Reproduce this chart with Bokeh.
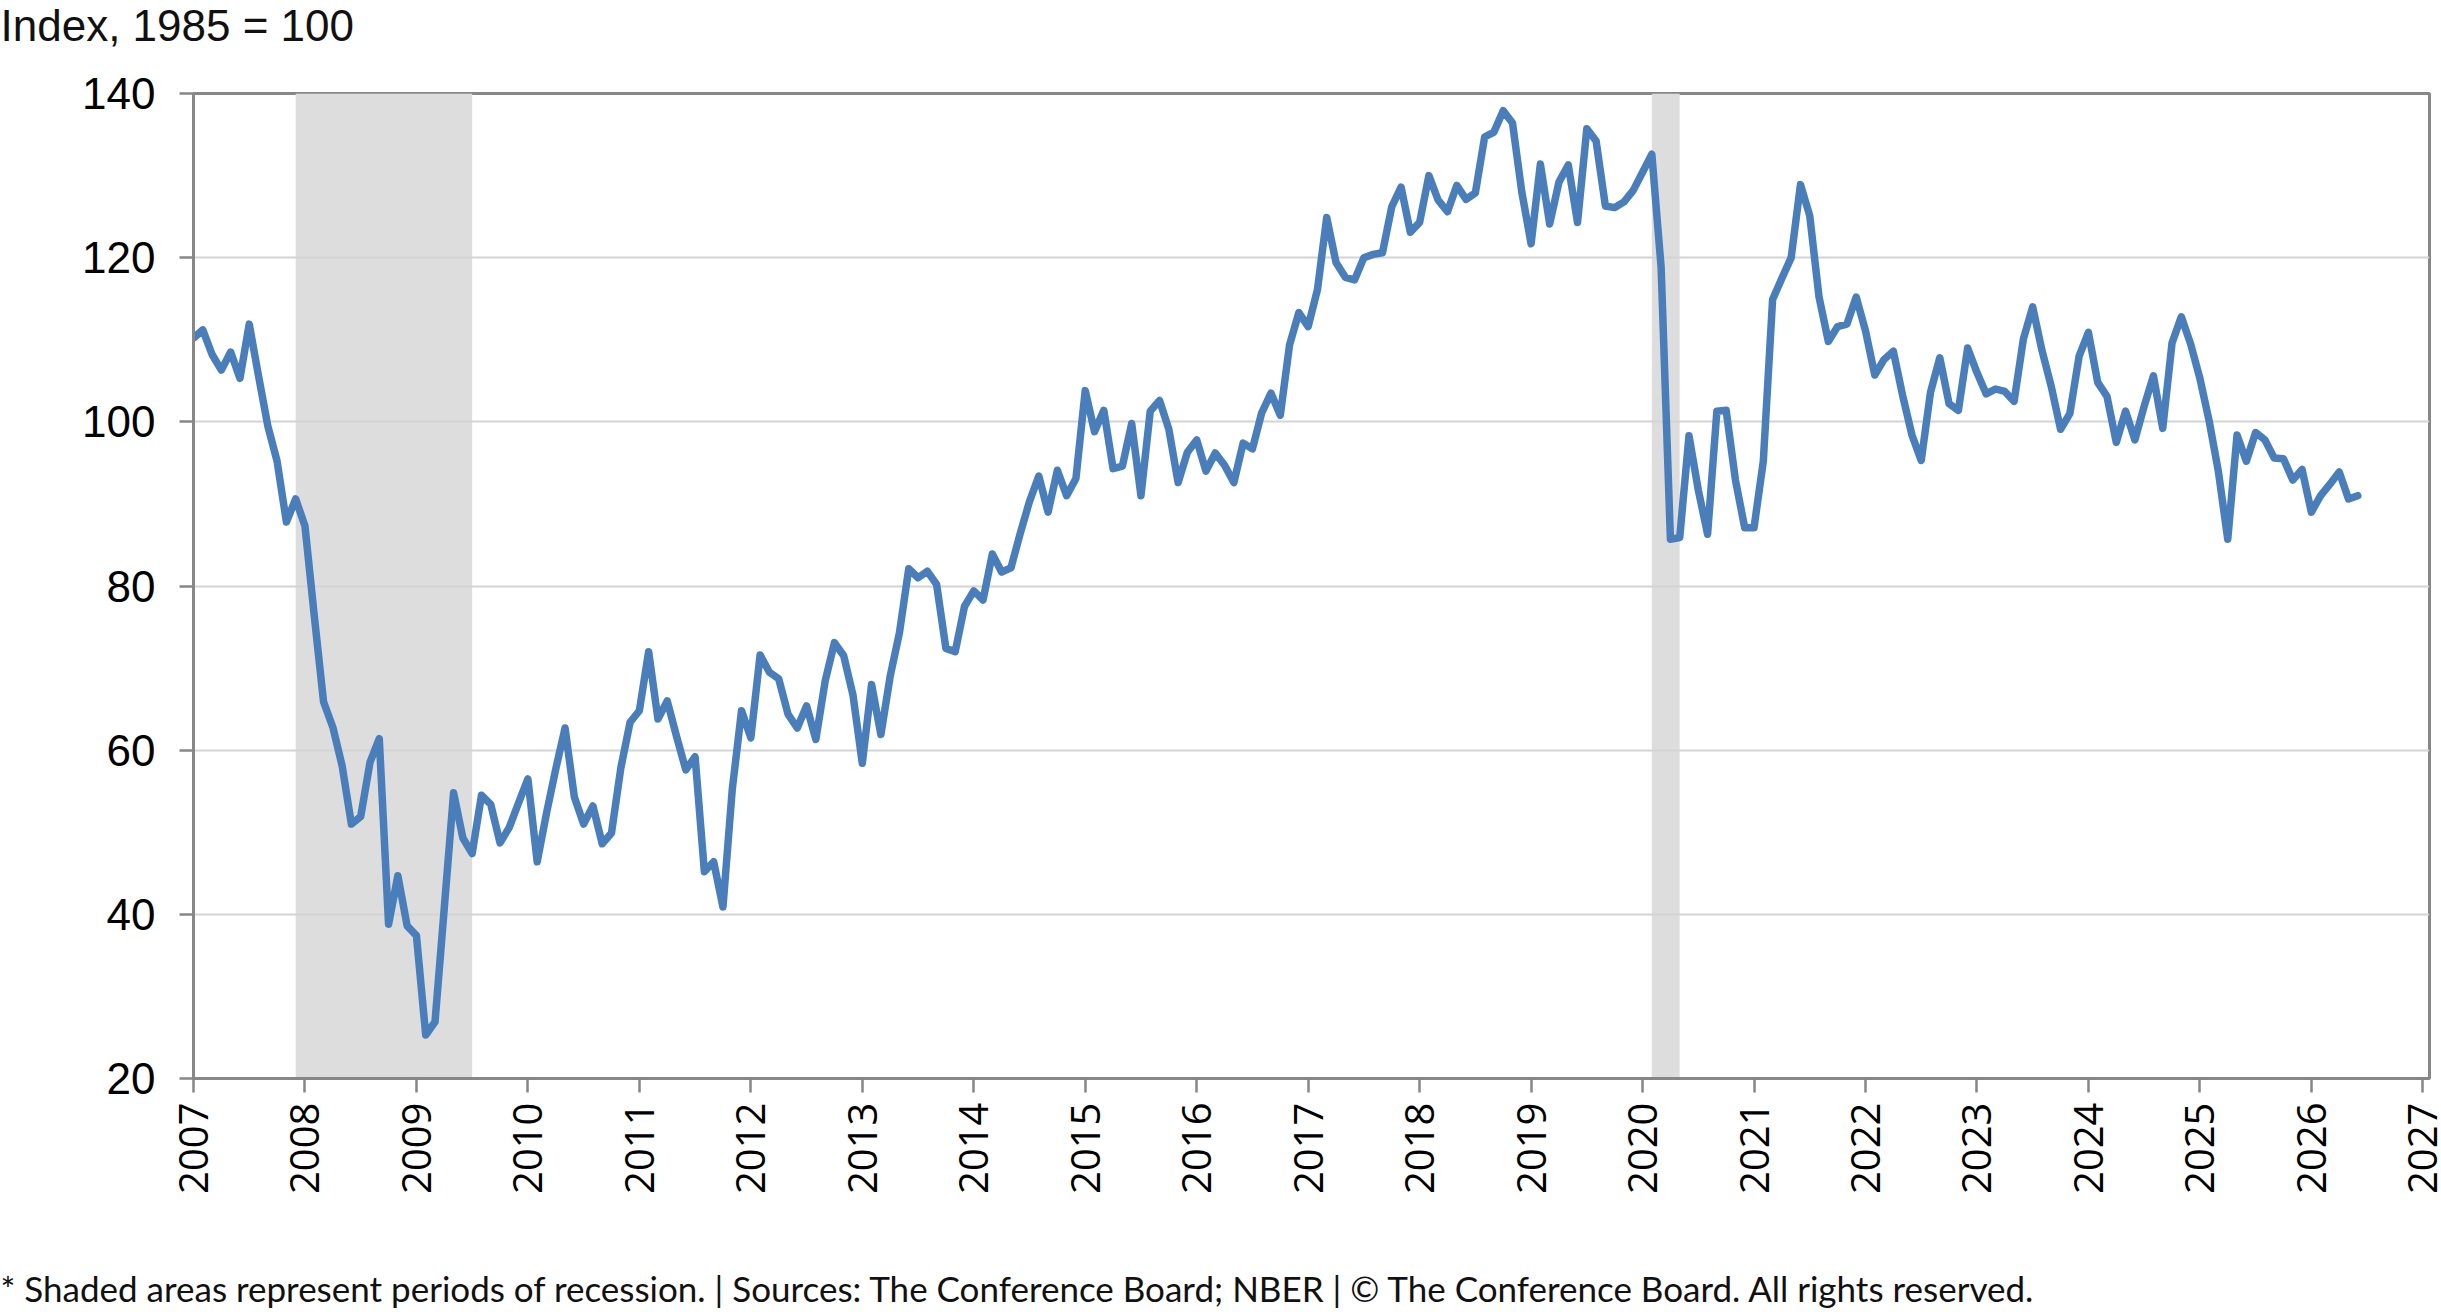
import math
from bokeh.plotting import figure
from bokeh.models import Range1d, FixedTicker, Label
from bokeh.embed import file_html
from bokeh.resources import INLINE

# ---- data: Consumer Confidence Index, monthly (Jan..Dec) ----
cci_2007 = [110.2, 111.2, 108.2, 106.3, 108.5, 105.3, 111.9, 105.6, 99.5, 95.2, 87.8, 90.6]
cci_2008 = [87.3, 76.4, 65.9, 62.8, 58.1, 51.0, 51.9, 58.5, 61.4, 38.8, 44.7, 38.6]
cci_2009 = [37.4, 25.3, 26.9, 40.8, 54.8, 49.3, 47.4, 54.5, 53.4, 48.7, 50.6, 53.6]
cci_2010 = [56.5, 46.4, 52.3, 57.7, 62.7, 54.3, 51.0, 53.2, 48.6, 49.9, 57.8, 63.4]
cci_2011 = [64.8, 72.0, 63.8, 66.0, 61.7, 57.6, 59.2, 45.2, 46.4, 40.9, 55.2, 64.8]
cci_2012 = [61.5, 71.6, 69.5, 68.7, 64.4, 62.7, 65.4, 61.3, 68.4, 73.1, 71.5, 66.7]
cci_2013 = [58.4, 68.0, 61.9, 69.0, 74.3, 82.1, 81.0, 81.8, 80.2, 72.4, 72.0, 77.5]
cci_2014 = [79.4, 78.3, 83.9, 81.7, 82.2, 86.4, 90.3, 93.4, 89.0, 94.1, 91.0, 93.1]
cci_2015 = [103.8, 98.8, 101.4, 94.3, 94.6, 99.8, 91.0, 101.3, 102.6, 99.1, 92.6, 96.3]
cci_2016 = [97.8, 94.0, 96.2, 94.7, 92.6, 97.4, 96.7, 101.1, 103.5, 100.8, 109.4, 113.3]
cci_2017 = [111.6, 116.1, 124.9, 119.4, 117.6, 117.3, 120.0, 120.4, 120.6, 126.2, 128.6, 123.1]
cci_2018 = [124.3, 130.0, 127.0, 125.6, 128.8, 127.1, 127.9, 134.7, 135.3, 137.9, 136.4, 128.0]
cci_2019 = [121.7, 131.4, 124.1, 129.2, 131.3, 124.3, 135.7, 134.2, 126.3, 126.1, 126.8, 128.2]
cci_2020 = [130.4, 132.6, 118.8, 85.7, 85.9, 98.3, 91.7, 86.3, 101.3, 101.4, 92.9, 87.1]
cci_2021 = [87.1, 95.2, 114.9, 117.5, 120.0, 128.9, 125.1, 115.2, 109.8, 111.6, 111.9, 115.2]
cci_2022 = [111.1, 105.7, 107.6, 108.6, 103.2, 98.4, 95.3, 103.6, 107.8, 102.2, 101.4, 109.0]
cci_2023 = [106.0, 103.4, 104.0, 103.7, 102.5, 110.1, 114.0, 108.7, 104.3, 99.1, 101.0, 108.0]
cci_2024 = [110.9, 104.8, 103.1, 97.5, 101.3, 97.8, 101.9, 105.6, 99.2, 109.6, 112.8, 109.5]
cci_2025 = [105.3, 100.1, 93.9, 85.7, 98.4, 95.2, 98.7, 97.8, 95.6, 95.5, 92.9, 94.2]
cci_2026 = [89.0, 91.0, 92.4, 93.9, 90.6, 91.0]

series_years = list(range(2007, 2027))
series_values = [cci_2007, cci_2008, cci_2009, cci_2010, cci_2011, cci_2012, cci_2013,
                 cci_2014, cci_2015, cci_2016, cci_2017, cci_2018, cci_2019, cci_2020,
                 cci_2021, cci_2022, cci_2023, cci_2024, cci_2025, cci_2026]

# recessions (NBER), as decimal years
rec_start = [2007.917, 2020.083]
rec_end = [2009.5, 2020.333]

y_ticks = [20, 40, 60, 80, 100, 120, 140]
x_ticks = list(range(2007, 2028))
x_tick_labels = {t: str(t) for t in x_ticks}

title_text = "Index, 1985 = 100"
footer_text = ("*  Shaded areas represent periods of recession.  |  Sources: The Conference Board;  NBER  |  "
               "\u00a9 The Conference Board.  All rights reserved.")

# ---- build monthly x/y ----
xs, ys = [], []
for yr, vals in zip(series_years, series_values):
    for m, v in enumerate(vals):
        xs.append(yr + m / 12.0)
        ys.append(v)

W, H = 2441, 1312
AXIS_COLOR = "#878787"
TEXT_COLOR = "#111111"

p = figure(width=W, height=H, output_backend="svg", toolbar_location=None,
           x_range=Range1d(2007, 2027.06), y_range=Range1d(20, 140))
p.min_border_left = 193
p.min_border_right = 12
p.min_border_top = 93
p.min_border_bottom = 234
p.background_fill_color = "white"
p.border_fill_color = "white"
p.outline_line_color = AXIS_COLOR
p.outline_line_width = 3

p.quad(left=rec_start, right=rec_end, bottom=20, top=140,
       fill_color="#DDDDDD", line_color=None, level="image")

p.line(xs, ys, line_color="#4A7EBB", line_width=7.5, line_join="round", line_cap="round")

p.xgrid.grid_line_color = None
p.ygrid.ticker = FixedTicker(ticks=y_ticks)
p.ygrid.grid_line_color = "#D4D4D4"
p.ygrid.grid_line_width = 2

for ax in (p.xaxis[0], p.yaxis[0]):
    ax.axis_line_color = AXIS_COLOR
    ax.axis_line_width = 3
    ax.major_tick_line_color = AXIS_COLOR
    ax.major_tick_line_width = 2.5
    ax.major_tick_in = 0
    ax.major_tick_out = 14
    ax.minor_tick_line_color = None
    ax.major_label_text_color = "#000000"

p.xaxis.ticker = FixedTicker(ticks=x_ticks)
p.xaxis.major_label_overrides = x_tick_labels
p.xaxis.major_label_orientation = math.pi / 2
p.xaxis.major_label_text_font = "Open Sans"
p.xaxis.major_label_text_font_size = "40px"
p.xaxis.major_label_standoff = 10

p.yaxis.ticker = FixedTicker(ticks=y_ticks)
p.yaxis.major_label_text_font = "Liberation Sans"
p.yaxis.major_label_text_font_size = "44px"
p.yaxis.major_label_standoff = 24

# texts placed in side panels (not clipped to the plot frame), canvas pixel units
p.add_layout(Label(x=0, y=25, x_units="canvas", y_units="canvas", text=title_text,
                   text_font="Liberation Sans", text_font_size="44px", text_color=TEXT_COLOR,
                   text_align="left", text_baseline="middle"), "above")
p.add_layout(Label(x=0, y=1287, x_units="canvas", y_units="canvas", text=footer_text,
                   text_font="Lato", text_font_size="35px", text_color=TEXT_COLOR,
                   text_align="left", text_baseline="middle"), "below")

open("out.html", "w").write(file_html(p, INLINE))
